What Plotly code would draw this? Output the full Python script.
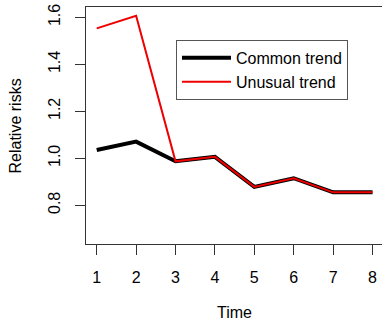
import plotly.graph_objects as go

time = [1, 2, 3, 4, 5, 6, 7, 8]
common_trend = [1.035, 1.071, 0.987, 1.006, 0.878, 0.915, 0.855, 0.855]
unusual_trend = [1.553, 1.607, 0.987, 1.006, 0.878, 0.915, 0.855, 0.855]
y_ticks = [0.8, 1.0, 1.2, 1.4, 1.6]
y_tick_labels = ["0.8", "1.0", "1.2", "1.4", "1.6"]

font = "Liberation Sans, Arial, sans-serif"

fig = go.Figure()
fig.add_trace(go.Scatter(x=time, y=common_trend, mode="lines", name="Common trend",
                         line=dict(color="black", width=4)))
fig.add_trace(go.Scatter(x=time, y=unusual_trend, mode="lines", name="Unusual trend",
                         line=dict(color="#ee0000", width=2)))

fig.update_layout(
    width=382, height=323,
    margin=dict(l=86, r=0, t=7, b=79),
    plot_bgcolor="white", paper_bgcolor="white",
    font=dict(family=font, size=16, color="black"),
    legend=dict(x=0.304, y=0.861, xanchor="left", yanchor="top",
                bgcolor="white", bordercolor="#555555", borderwidth=1,
                font=dict(size=16), tracegroupgap=0, itemwidth=49),
    xaxis=dict(range=[0.728, 8.241], tickvals=time, ticktext=[str(t) for t in time],
               showgrid=False, zeroline=False, showline=True, linecolor="#333333",
               linewidth=1, mirror=True, ticks="outside", ticklen=10, tickcolor="#333333",
               ticklabelstandoff=9, automargin=False),
    yaxis=dict(range=[0.635, 1.644], tickvals=y_ticks, ticktext=y_tick_labels,
               tickangle=-90, showgrid=False, zeroline=False, showline=True,
               linecolor="#333333", linewidth=1, ticks="outside", ticklen=10,
               tickcolor="#333333", ticklabelstandoff=9, automargin=False),
    annotations=[
        dict(text="Time", xref="paper", yref="paper", x=0.5, y=-0.291,
             xanchor="center", yanchor="middle", showarrow=False, font=dict(size=16)),
        dict(text="Relative risks", xref="paper", yref="paper", x=-0.2365, y=0.5,
             xanchor="center", yanchor="middle", textangle=-90, showarrow=False,
             font=dict(size=16)),
    ],
)

# Remove the browser's default page margin so the figure fills the window exactly.
fig.write_html("out.html",
               config={"displayModeBar": False},
               post_script="document.body.style.margin='0';document.body.style.overflow='hidden';")
